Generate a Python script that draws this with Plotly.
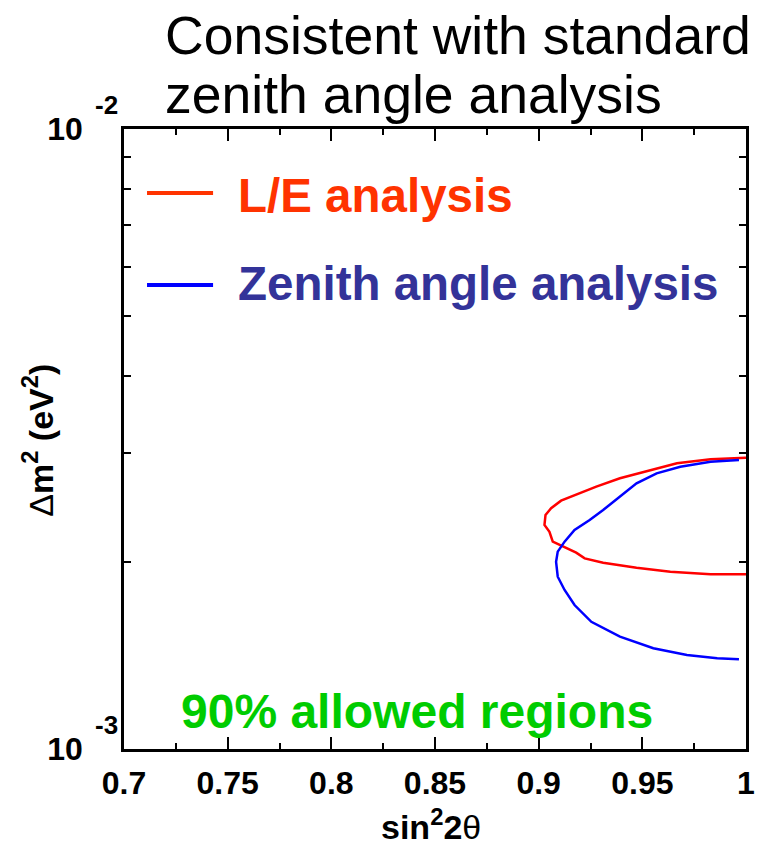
import math
import plotly.graph_objects as go

# ---- data ----
le_sin2 = [1.000, 0.9829, 0.9667, 0.9505, 0.9392, 0.9278, 0.9181, 0.9108, 0.9060, 0.9033,
           0.9028, 0.9052, 0.9068, 0.9133, 0.9181, 0.9222, 0.9311, 0.9472, 0.9635, 0.9829, 1.000]
le_dm2 = [2.950e-3, 2.933e-3, 2.890e-3, 2.800e-3, 2.733e-3, 2.649e-3, 2.575e-3, 2.515e-3, 2.445e-3, 2.385e-3,
          2.298e-3, 2.241e-3, 2.160e-3, 2.107e-3, 2.073e-3, 2.030e-3, 1.997e-3, 1.960e-3, 1.932e-3, 1.913e-3, 1.913e-3]

zen_sin2 = [0.9966, 0.9829, 0.9683, 0.9569, 0.9472, 0.9392, 0.9311, 0.9246, 0.9173, 0.9125, 0.9092,
            0.9084, 0.9092, 0.9125, 0.9173, 0.9254, 0.9392, 0.9553, 0.9715, 0.9861, 0.9966]
zen_dm2 = [2.925e-3, 2.907e-3, 2.853e-3, 2.784e-3, 2.683e-3, 2.552e-3, 2.429e-3, 2.341e-3, 2.255e-3, 2.160e-3, 2.081e-3,
           2.004e-3, 1.896e-3, 1.805e-3, 1.707e-3, 1.604e-3, 1.518e-3, 1.454e-3, 1.418e-3, 1.401e-3, 1.395e-3]

x_tickvals = [0.7, 0.75, 0.8, 0.85, 0.9, 0.95, 1.0]
x_ticktext = ["0.7", "0.75", "0.8", "0.85", "0.9", "0.95", "1"]
y_tickvals = [1e-3, 1e-2]
y_ticktext = ["10", "10"]
y_minor_tickvals = [2e-3, 3e-3, 4e-3, 5e-3, 6e-3, 7e-3, 8e-3, 9e-3]
y_exponents = ["-3", "-2"]

series_names = ["L/E analysis", "Zenith angle analysis"]
line_colors = ["#FF0000", "#0000FF"]
legend_line_colors = ["#FF3300", "#0000FF"]
legend_text_colors = ["#FF3300", "#333399"]

FONT = "Liberation Sans, Arial, sans-serif"

fig = go.Figure()
fig.add_trace(go.Scatter(x=le_sin2, y=le_dm2, mode="lines", name=series_names[0],
                         line=dict(color=line_colors[0], width=2.5), showlegend=False))
fig.add_trace(go.Scatter(x=zen_sin2, y=zen_dm2, mode="lines", name=series_names[1],
                         line=dict(color=line_colors[1], width=2.5), showlegend=False))

fig.update_layout(
    width=758, height=848,
    margin=dict(l=124, r=12, t=129, b=99, autoexpand=False),
    paper_bgcolor="white", plot_bgcolor="white",
    font=dict(family=FONT, color="black"),
    xaxis=dict(
        range=[0.7, 1.0], tickvals=x_tickvals, ticktext=x_ticktext,
        ticks="inside", ticklen=12, tickwidth=2, tickcolor="black",
        minor=dict(ticks="inside", ticklen=6, tickwidth=2, tickcolor="black", dtick=0.025, showgrid=False),
        showline=True, linewidth=2.5, linecolor="black", mirror="allticks",
        showgrid=False, zeroline=False, automargin=False,
        tickfont=dict(family=FONT, size=32, weight="bold", color="black"),
        ticklabelstandoff=4,
    ),
    yaxis=dict(
        type="log", range=[-3, -2], tickvals=y_tickvals, ticktext=y_ticktext,
        ticks="inside", ticklen=7, tickwidth=2, tickcolor="black",
        minor=dict(tickmode="array", tickvals=y_minor_tickvals, ticks="inside", ticklen=7,
                   tickwidth=2, tickcolor="black", showgrid=False),
        showline=True, linewidth=2.5, linecolor="black", mirror="allticks",
        showgrid=False, zeroline=False, automargin=False,
        tickfont=dict(family=FONT, size=32, weight="bold", color="black"),
        ticklabelstandoff=32,
    ),
)

ann = []
# axis titles
ann.append(dict(text="<b>sin<sup>2</sup>2</b>θ", xref="paper", yref="paper", x=0.494, y=-0.121,
                xanchor="center", yanchor="middle", showarrow=False,
                font=dict(family=FONT, size=34, color="black")))
ann.append(dict(text="Δ<b>m<sup>2</sup> (eV<sup>2</sup>)</b>", xref="paper", yref="paper", x=-0.139, y=0.498,
                xanchor="center", yanchor="middle", showarrow=False, textangle=-90,
                font=dict(family=FONT, size=34, color="black")))
# title lines
ann.append(dict(text="Consistent with standard", xref="paper", yref="paper", x=0.062, y=1.1516,
                xanchor="left", yanchor="middle", showarrow=False,
                font=dict(family=FONT, size=53.5, color="black")))
ann.append(dict(text="zenith angle analysis", xref="paper", yref="paper", x=0.062, y=1.056,
                xanchor="left", yanchor="middle", showarrow=False,
                font=dict(family=FONT, size=53.5, color="black")))
# exponent labels of the y ticks
for e, v in zip(y_exponents, y_tickvals):
    ann.append(dict(text=e, xref="paper", yref="y", x=-0.028, y=math.log10(v),
                    yshift=24, xanchor="center", yanchor="middle", showarrow=False,
                    font=dict(family=FONT, size=26, weight="bold", color="black")))
# legend texts
legend_y = [0.8935, 0.7516]
for name, col, yy in zip(series_names, legend_text_colors, legend_y):
    ann.append(dict(text=name, xref="paper", yref="paper", x=0.180, y=yy,
                    xanchor="left", yanchor="middle", showarrow=False,
                    font=dict(family=FONT, size=47.5, weight="bold", color=col)))
ann.append(dict(text="90% allowed regions", xref="paper", yref="paper", x=0.4714, y=0.0597,
                xanchor="center", yanchor="middle", showarrow=False,
                font=dict(family=FONT, size=48, weight="bold", color="#00CC00")))
fig.update_layout(annotations=ann)

shapes = []
legend_line_y = [(749 - 193) / 620, (749 - 285) / 620]
for col, yy in zip(legend_line_colors, legend_line_y):
    shapes.append(dict(type="line", xref="paper", yref="paper",
                       x0=(147 - 124) / 621.5, x1=(213 - 124) / 621.5, y0=yy, y1=yy,
                       line=dict(color=col, width=4)))
fig.update_layout(shapes=shapes)

fig.write_html("out.html")
